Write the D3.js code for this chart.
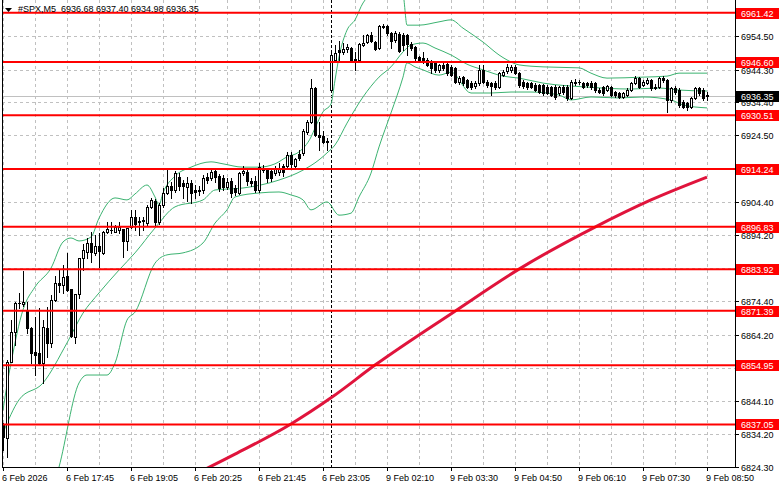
<!DOCTYPE html>
<html><head><meta charset="utf-8">
<script src="https://cdn.jsdelivr.net/npm/d3@7"></script>
<style>
html,body{margin:0;padding:0;background:#fff;overflow:hidden}
svg{display:block}
text{font-family:"Liberation Sans",Arial,sans-serif;font-size:9px}
</style>
</head><body>
<svg id="c" width="781" height="489"></svg>
<script>
// ---------- DATA ----------
const symbolTitle = "#SPX,M5  6936.68 6937.40 6934.98 6936.35";
const opens = [6836.9,6832.9,6856.0,6865.1,6873.7,6873.5,6871.7,6866.1,6859.1,6858.6,6855.5,6866.1,6861.6,6874.7,6879.7,6879.2,6881.9,6877.9,6863.6,6876.5,
6887.3,6889.3,6892.0,6889.0,6891.0,6888.8,6895.3,6895.8,6895.3,6895.8,6896.0,6892.6,6896.6,6899.7,6898.2,6898.5,6897.9,6902.8,6904.6,6898.2,
6903.4,6907.0,6909.1,6907.9,6911.8,6910.0,6908.8,6910.0,6907.9,6907.6,6907.9,6911.8,6911.5,6913.6,6912.1,6911.5,6908.8,6910.6,6908.5,6907.0,
6913.0,6913.3,6910.6,6910.6,6907.9,6914.5,6913.9,6913.6,6913.0,6913.3,6915.2,6915.2,6918.5,6915.2,6918.8,6919.1,6925.4,6928.4,6938.7,6924.5,
6924.2,6922.7,6938.1,6947.2,6950.2,6949.6,6950.5,6950.8,6947.2,6947.2,6951.7,6952.6,6954.7,6952.6,6950.8,6957.1,6957.4,6955.3,6953.2,6955.0,
6954.7,6954.7,6952.0,6951.1,6948.1,6947.8,6947.2,6946.6,6946.3,6944.2,6945.7,6946.0,6945.1,6944.8,6940.5,6942.0,6941.1,6940.2,6939.3,6940.2,
6944.2,6940.5,6940.2,6940.2,6939.0,6942.6,6943.9,6944.2,6945.1,6943.2,6940.5,6940.2,6940.2,6939.6,6939.6,6939.6,6939.0,6939.0,6939.0,6937.2,
6939.0,6939.0,6935.7,6940.2,6940.5,6940.2,6940.2,6940.2,6940.2,6938.1,6939.0,6938.1,6939.0,6937.5,6937.2,6936.0,6936.6,6938.1,6940.2,6941.7,
6939.6,6940.2,6941.1,6938.7,6939.0,6941.7,6941.1,6935.1,6938.7,6938.1,6934.5,6934.2,6933.0,6935.7,6938.7,6938.1,6936.68];
const highs = [6837.4,6856.5,6868.6,6874.1,6876.9,6883.5,6874.1,6866.5,6869.6,6872.2,6868.6,6872.6,6876.2,6881.9,6883.7,6885.2,6888.8,6878.0,6876.6,6887.4,
6891.6,6893.3,6895.3,6894.3,6894.8,6895.4,6898.3,6898.3,6897.3,6898.3,6896.1,6896.4,6901.9,6901.9,6899.7,6899.7,6903.4,6905.5,6905.2,6904.0,
6908.5,6913.9,6910.3,6913.6,6913.0,6910.9,6911.8,6910.9,6909.4,6909.1,6912.4,6913.0,6913.9,6914.5,6912.7,6912.4,6911.5,6911.5,6909.4,6913.3,
6915.2,6914.5,6911.5,6912.1,6916.1,6915.5,6914.5,6914.2,6915.2,6916.1,6915.8,6919.4,6919.4,6917.6,6920.0,6926.3,6929.1,6941.4,6939.0,6928.4,
6925.7,6923.6,6949.3,6951.7,6952.9,6952.3,6952.0,6951.1,6949.6,6952.3,6954.7,6955.0,6955.6,6952.9,6957.7,6958.0,6957.7,6955.6,6955.9,6955.6,
6955.3,6955.0,6952.6,6951.4,6948.4,6949.6,6947.8,6947.2,6946.6,6946.0,6946.3,6946.6,6945.7,6945.1,6942.3,6942.3,6941.4,6940.8,6940.8,6945.7,
6945.7,6941.1,6940.5,6940.8,6943.5,6944.2,6946.0,6945.7,6945.7,6943.5,6941.1,6940.5,6940.5,6940.2,6939.9,6939.9,6939.6,6939.3,6939.6,6939.3,
6939.6,6939.6,6941.1,6941.4,6941.1,6940.5,6940.5,6940.8,6940.5,6938.7,6939.3,6939.6,6939.3,6937.8,6937.5,6937.5,6938.7,6940.5,6942.3,6942.0,
6941.1,6941.7,6941.4,6939.9,6942.0,6942.3,6941.4,6939.0,6939.3,6938.7,6935.1,6934.5,6936.0,6939.0,6939.0,6938.7,6937.40];
const lows = [6829.4,6827.2,6855.9,6861.1,6872.2,6872.9,6864.7,6855.6,6852.0,6855.0,6849.5,6857.5,6860.6,6874.5,6877.2,6876.7,6877.5,6863.6,6861.8,6875.2,
6883.7,6887.3,6886.2,6888.3,6884.7,6888.6,6894.8,6894.8,6895.2,6895.0,6887.6,6889.8,6896.5,6895.8,6894.3,6895.8,6897.3,6902.5,6897.0,6897.6,
6902.8,6906.7,6905.5,6907.3,6907.9,6905.5,6904.6,6904.0,6905.5,6906.4,6907.0,6910.0,6910.9,6910.3,6907.6,6907.9,6908.2,6905.8,6906.4,6906.7,
6912.4,6909.4,6909.1,6907.3,6907.3,6913.3,6910.3,6910.6,6912.4,6912.4,6912.1,6914.5,6914.8,6914.5,6917.0,6918.5,6924.8,6928.1,6924.2,6920.0,
6922.1,6920.0,6937.5,6946.6,6946.6,6949.0,6949.6,6946.6,6944.2,6946.9,6951.4,6952.3,6952.6,6950.2,6950.5,6956.8,6954.7,6950.8,6952.6,6949.6,
6950.2,6948.7,6950.2,6947.2,6946.6,6946.3,6945.4,6943.2,6943.5,6943.5,6944.2,6942.6,6942.3,6940.2,6939.9,6939.6,6938.7,6938.4,6938.7,6939.6,
6940.2,6939.0,6936.6,6938.4,6938.7,6942.3,6943.2,6943.5,6942.9,6939.0,6938.7,6938.4,6938.7,6937.8,6937.2,6936.6,6936.9,6936.3,6935.4,6936.6,
6936.9,6935.1,6935.4,6939.6,6939.9,6938.7,6939.0,6938.4,6937.5,6937.2,6936.6,6937.8,6936.3,6936.0,6935.7,6935.7,6936.3,6937.8,6939.9,6938.7,
6939.3,6939.9,6938.1,6938.4,6938.7,6940.5,6931.5,6934.5,6936.9,6933.0,6932.7,6932.1,6932.7,6935.4,6936.6,6935.1,6934.98];
const closes = [6833.4,6856.0,6865.1,6873.7,6873.9,6874.1,6866.1,6858.8,6858.1,6855.5,6866.6,6861.6,6874.7,6879.7,6879.2,6881.7,6877.7,6863.9,6876.5,6887.3,
6889.8,6892.0,6889.3,6891.0,6889.6,6895.2,6896.0,6895.7,6896.6,6896.6,6892.6,6896.3,6899.6,6897.6,6898.5,6898.7,6902.8,6904.9,6898.2,6903.4,
6907.0,6909.1,6907.9,6913.0,6909.1,6909.1,6910.0,6907.0,6907.3,6907.9,6911.5,6910.9,6913.3,6911.8,6908.5,6908.8,6910.3,6907.0,6907.3,6913.0,
6913.6,6910.6,6910.0,6907.9,6914.8,6913.9,6911.5,6911.5,6914.2,6914.5,6913.3,6918.5,6915.8,6917.3,6917.6,6925.7,6928.4,6938.7,6924.5,6923.9,
6922.4,6922.4,6948.7,6949.3,6949.6,6950.5,6951.1,6947.2,6947.4,6952.0,6952.3,6954.7,6952.9,6950.5,6957.4,6957.4,6955.3,6952.9,6955.3,6949.9,
6951.7,6952.0,6950.8,6947.8,6947.2,6946.6,6945.7,6944.8,6944.2,6945.7,6944.8,6943.2,6942.6,6940.5,6941.7,6940.2,6939.0,6939.0,6940.2,6944.2,
6940.5,6939.6,6939.3,6939.0,6943.2,6943.5,6945.1,6945.1,6943.2,6939.6,6939.3,6939.0,6939.0,6938.1,6937.5,6937.2,6937.2,6936.6,6936.0,6939.0,
6937.5,6935.7,6940.5,6940.5,6940.4,6939.0,6939.6,6939.0,6938.1,6937.5,6937.2,6939.3,6936.6,6936.6,6936.0,6937.2,6938.1,6940.2,6941.7,6939.0,
6940.5,6941.1,6938.7,6939.0,6941.7,6941.1,6935.1,6938.7,6937.5,6933.6,6933.0,6933.0,6935.7,6938.7,6937.2,6935.7,6936.35];

// Bollinger bands (read at sample bars)
const upperBars = [0,1,2,5,8,12,15,17,19,22,24,28,31,33,36,38,39,40,43,47,52,55,60,64,68,71,74,77,78,80,82,83,84,86,88,90,92,97,100,101,104,109,112,115,120,124,126,129,135,144,147,151,160,166,169,176];
const upperVals = [6841.4,6849.0,6855.6,6871.7,6878.6,6884.3,6892.2,6893.4,6892.5,6893.7,6899.4,6905.5,6904.9,6906.7,6909.4,6905.8,6903.4,6907.0,6912.1,6914.8,6916.4,6915.8,6914.8,6914.8,6915.8,6917.9,6919.4,6923.9,6926.6,6931.5,6933.9,6941.1,6948.1,6956.2,6959.3,6964.4,6966.8,6967.7,6966.8,6957.7,6957.7,6958.7,6959.3,6956.8,6952.6,6948.7,6947.2,6945.7,6945.1,6944.8,6943.2,6941.7,6942.0,6942.3,6943.2,6943.2];
const middleBars = [0,4,10,16,20,24,29,33,38,43,50,53,60,69,75,79,81,83,86,90,94,97,100,102,105,108,112,116,120,125,129,135,146,157,164,169,176];
const middleVals = [6834.5,6844.5,6849.6,6861.7,6870.7,6876.8,6883.7,6888.9,6896.4,6902.8,6904.9,6907.9,6908.5,6910.9,6913.9,6917.0,6919.1,6921.5,6928.1,6936.0,6942.0,6945.1,6949.6,6951.7,6952.3,6950.8,6948.7,6945.9,6944.2,6942.3,6941.7,6940.2,6939.0,6938.4,6938.7,6938.1,6937.8];
const lowerBars = [9,14,19,21,26,28,31,33,38,41,45,50,53,56,58,64,69,72,75,77,81,84,87,89,92,94,97,100,101,103,105,109,112,117,122,127,132,139,142,147,154,160,167,170,176];
const lowerVals = [6805.2,6824.2,6849.6,6852.0,6852.0,6855.6,6868.6,6871.0,6885.8,6888.3,6888.9,6891.9,6897.9,6901.9,6905.8,6907.0,6907.3,6906.4,6904.9,6901.9,6904.3,6900.3,6900.9,6905.8,6913.0,6920.9,6931.2,6942.0,6946.3,6945.1,6944.2,6942.6,6943.5,6937.2,6937.2,6937.5,6937.5,6936.6,6935.1,6936.0,6935.7,6936.0,6935.1,6933.6,6932.7];
// Moving average (red)
const maBars = [48,58,72,82,93,113,129,148,162,176];
const maVals = [6822.0,6828.1,6837.2,6845.1,6855.0,6871.3,6884.0,6896.7,6904.9,6911.8];

// horizontal levels
const levels = [6961.42,6946.60,6930.51,6914.24,6896.83,6883.92,6871.39,6854.95,6837.05];
const currentPrice = 6936.35;
const yTicks = [6954.50,6944.30,6934.40,6924.50,6914.30,6904.40,6894.20,6884.30,6874.40,6864.20,6854.10,6844.10,6834.20,6824.30];
const yTickHidden = [6914.30,6884.30,6854.10]; // labels hidden under level labels
const xTickBars = [0,16,32,48,64,80,96,112,128,144,160,176];
const xTickLabels = ["6 Feb 2026","6 Feb 17:45","6 Feb 19:05","6 Feb 20:25","6 Feb 21:45","6 Feb 23:05","9 Feb 02:10","9 Feb 03:30","9 Feb 04:50","9 Feb 06:10","9 Feb 07:30","9 Feb 08:50"];
const separatorBar = 82;

// ---------- CHART ----------
const L = 2, R = 735, B = 467;
const svg = d3.select('#c');
const x = d3.scaleLinear().domain([0, 176]).range([3, 707]);
const y = d3.scaleLinear().domain([6824.3, 6954.5]).range([466.7, 35.75]);
const px = v => Math.round(x(v));
const py = v => Math.round(y(v));

svg.append('rect').attr('width', 781).attr('height', 489).attr('fill', '#fff');
svg.append('defs').append('clipPath').attr('id', 'plot')
  .append('rect').attr('x', L).attr('y', 0).attr('width', R - L).attr('height', B);

const grid = svg.append('g').attr('shape-rendering', 'crispEdges');
grid.selectAll('line.h').data(yTicks).join('line').attr('class', 'h')
  .attr('x1', L).attr('x2', R).attr('y1', d => py(d) + 0.5).attr('y2', d => py(d) + 0.5)
  .attr('stroke', '#c0c0c0').attr('stroke-dasharray', '3,3');
grid.selectAll('line.v').data(d3.range(0, 177, 8)).join('line').attr('class', 'v')
  .attr('x1', d => px(d) + 0.5).attr('x2', d => px(d) + 0.5).attr('y1', 0).attr('y2', B)
  .attr('stroke', '#c0c0c0').attr('stroke-dasharray', '3,3');

const plot = svg.append('g').attr('clip-path', 'url(#plot)');
plot.append('line').attr('x1', px(separatorBar) + 0.5).attr('x2', px(separatorBar) + 0.5)
  .attr('y1', 0).attr('y2', B).attr('stroke', '#000').attr('stroke-dasharray', '3,2')
  .attr('shape-rendering', 'crispEdges');
plot.append('line').attr('x1', L).attr('x2', R).attr('y1', py(currentPrice) + 0.5).attr('y2', py(currentPrice) + 0.5)
  .attr('stroke', '#c0c0c0').attr('shape-rendering', 'crispEdges');

const lineGen = d3.line().x(d => x(d[0])).y(d => y(d[1])).curve(d3.curveMonotoneX);
const zip = (a, b) => a.map((v, i) => [v, b[i]]);
[[upperBars, upperVals], [middleBars, middleVals], [lowerBars, lowerVals]].forEach(([bs, vs]) => {
  plot.append('path').attr('d', lineGen(zip(bs, vs))).attr('fill', 'none')
    .attr('stroke', '#3cb371').attr('stroke-width', 1);
});
plot.append('path').attr('d', lineGen(zip(maBars, maVals))).attr('fill', 'none')
  .attr('stroke', '#e0143c').attr('stroke-width', 3);

// candles
const idx = d3.range(opens.length);
const cg = plot.append('g').attr('shape-rendering', 'crispEdges');
cg.selectAll('line.w').data(idx).join('line').attr('class', 'w')
  .attr('x1', i => px(i) + 0.5).attr('x2', i => px(i) + 0.5)
  .attr('y1', i => py(highs[i])).attr('y2', i => py(lows[i]) + 1)
  .attr('stroke', '#000');
cg.selectAll('rect.b').data(idx).join('rect').attr('class', 'b')
  .attr('x', i => px(i) - 0.5).attr('width', 2)
  .attr('y', i => py(Math.max(opens[i], closes[i])) + 0.5)
  .attr('height', i => Math.max(0.01, py(Math.min(opens[i], closes[i])) - py(Math.max(opens[i], closes[i]))))
  .attr('fill', i => closes[i] >= opens[i] ? '#fff' : '#000')
  .attr('stroke', '#000');

// levels
plot.selectAll('line.lv').data(levels).join('line').attr('class', 'lv')
  .attr('x1', L).attr('x2', R).attr('y1', d => y(d)).attr('y2', d => y(d))
  .attr('stroke', '#ff0000').attr('stroke-width', 2);

// axes frame
const ax = svg.append('g').attr('shape-rendering', 'crispEdges');
ax.append('line').attr('x1', L + 0.5).attr('x2', L + 0.5).attr('y1', 0).attr('y2', B).attr('stroke', '#000');
ax.append('line').attr('x1', R + 0.5).attr('x2', R + 0.5).attr('y1', 0).attr('y2', B + 1).attr('stroke', '#000');
ax.append('line').attr('x1', L).attr('x2', R + 1).attr('y1', B + 0.5).attr('y2', B + 0.5).attr('stroke', '#000');
ax.selectAll('line.yt').data(yTicks).join('line').attr('class', 'yt')
  .attr('x1', R).attr('x2', R + 4).attr('y1', d => py(d) + 0.5).attr('y2', d => py(d) + 0.5).attr('stroke', '#000');
ax.selectAll('line.xt').data(xTickBars).join('line').attr('class', 'xt')
  .attr('x1', d => px(d) + 0.5).attr('x2', d => px(d) + 0.5).attr('y1', B).attr('y2', B + 4).attr('stroke', '#000');

svg.selectAll('text.yl').data(yTicks.filter(d => !yTickHidden.includes(d))).join('text').attr('class', 'yl')
  .attr('x', 741).attr('y', d => py(d) + 3.5).text(d => d.toFixed(2));
svg.selectAll('text.xl').data(xTickBars).join('text').attr('class', 'xl')
  .attr('x', d => px(d) - 1).attr('y', 481).text((d, i) => xTickLabels[i]);

// level labels
const lg = svg.append('g');
levels.forEach(v => {
  lg.append('rect').attr('x', 736).attr('y', py(v) - 5).attr('width', 43).attr('height', 11).attr('fill', '#ff0000');
  lg.append('text').attr('x', 741).attr('y', py(v) + 3.5).attr('fill', '#fff').text(v.toFixed(2));
});
lg.append('rect').attr('x', 736).attr('y', py(currentPrice) - 5).attr('width', 43).attr('height', 11).attr('fill', '#000');
lg.append('text').attr('x', 741).attr('y', py(currentPrice) + 3.5).attr('fill', '#fff').text(currentPrice.toFixed(2));

// title
svg.append('path').attr('d', 'M5,8 L12,8 L8.5,12 Z').attr('fill', '#000');
svg.append('text').attr('x', 18).attr('y', 12).style('white-space', 'pre').text(symbolTitle);
</script>
</body></html>
